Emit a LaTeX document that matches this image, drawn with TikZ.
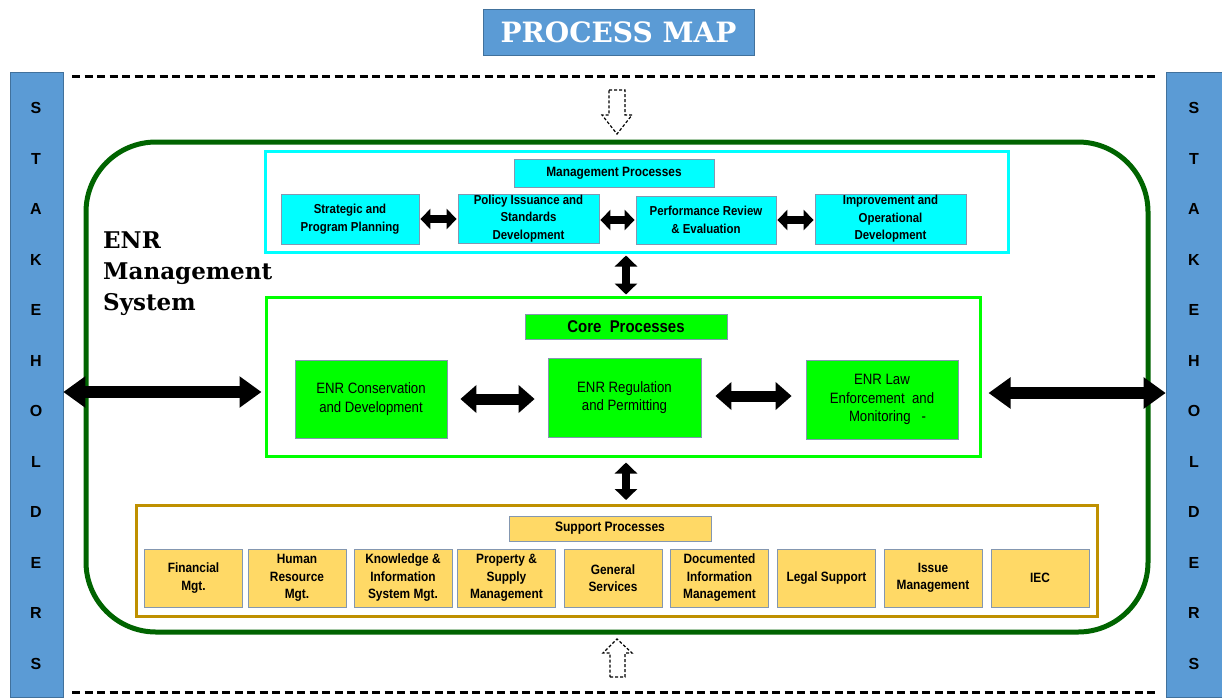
\documentclass[tikz,border=0pt]{standalone}
\usepackage{fontspec}
\usetikzlibrary{arrows.meta}
\newfontfamily\nar[FakeStretch=0.88]{Liberation Sans}
\newfontfamily\sansb{Liberation Sans}
\newfontfamily\titlefont{DejaVu Serif}
\definecolor{steel}{RGB}{91,155,213}
\definecolor{steelb}{RGB}{65,113,156}
\definecolor{cyanf}{RGB}{0,255,255}
\definecolor{limef}{RGB}{0,255,0}
\definecolor{goldf}{RGB}{255,217,102}
\definecolor{goldo}{RGB}{191,144,0}
\definecolor{darkg}{RGB}{0,100,0}
\definecolor{boxb}{RGB}{132,151,176}
\tikzset{
  pbox/.style={draw=boxb, line width=0.8pt, inner sep=1pt, align=center, text=black},
  mbox/.style={pbox, fill=cyanf, font=\nar\bfseries\fontsize{13}{17.5}\selectfont},
  cbox/.style={pbox, fill=limef, font=\nar\fontsize{15}{18.5}\selectfont},
  sbox/.style={pbox, fill=goldf, font=\nar\bfseries\fontsize{13.5}{17.5}\selectfont, minimum width=98pt, minimum height=58pt},
  frame/.style={draw, line width=3pt, inner sep=0pt},
  marr/.style={line width=8pt, {Triangle[length=10pt,width=20pt]}-{Triangle[length=10pt,width=20pt]}},
  carr/.style={line width=11pt, {Triangle[length=16pt,width=27pt]}-{Triangle[length=16pt,width=27pt]}},
  barr/.style={line width=12pt, {Triangle[length=22pt,width=30pt]}-{Triangle[length=22pt,width=30pt]}},
  varr/.style={line width=8pt, {Triangle[length=11pt,width=22pt]}-{Triangle[length=11pt,width=22pt]}},
  hollow/.style={draw, line width=1.2pt, dash pattern=on 3pt off 2pt, fill=white},
  dline/.style={line width=3pt, dash pattern=on 8pt off 4.5pt},
  stake/.style={fill=steel, draw=steelb, line width=0.6pt, inner sep=0pt},
  sletter/.style={font=\sansb\bfseries\fontsize{16}{16}\selectfont, text=black}
}
\begin{document}
\begin{tikzpicture}[x=1pt,y=-1pt]
\useasboundingbox (0,0) rectangle (1222,697);
% title
\node (title) [fill=steel, draw=steelb, line width=0.6pt, minimum width=271pt, minimum height=46pt, text=white, font=\titlefont\bfseries\fontsize{28}{28}\selectfont] at (618.5,32) {PROCESS MAP};
% stakeholders bars
\node (lstake) [stake, minimum width=53pt, minimum height=625pt] at (36.5,384.5) {};
\node (rstake) [stake, minimum width=57pt, minimum height=625pt] at (1194.5,384.5) {};
\foreach \L [count=\i from 0] in {S,T,A,K,E,H,O,L,D,E,R,S} {
  \node[sletter] (ls\i) at (36,108+50.5*\i) {\L};
  \node[sletter] (rs\i) at (1194,108+50.5*\i) {\L};
}
% dashed lines
\coordinate (dtl) at (72,76);
\coordinate (dtr) at (1157,76);
\coordinate (dbl) at (72,692);
\coordinate (dbr) at (1157,692);
\draw[dline] (dtl) -- (dtr);
\draw[dline] (dbl) -- (dbr);
% hollow arrows
\draw[hollow] (609,90) -- (625,90) -- (625,115) -- (632,115) -- (617,134) -- (602,115) -- (609,115) -- cycle;
\draw[hollow] (610,677) -- (625,677) -- (625,653) -- (632,653) -- (617,639) -- (603,653) -- (610,653) -- cycle;
% system frame
\node (ems) [draw=darkg, line width=5pt, rounded corners=70pt, minimum width=1062pt, minimum height=490pt] at (617,387) {};
\node (emsl) [anchor=north west, align=left, inner sep=0pt, font=\titlefont\bfseries\fontsize{23}{31}\selectfont] at (103,232) {ENR\\Management\\System};
% management
\node (mgmt) [frame, draw=cyanf, minimum width=743pt, minimum height=101pt] at (636.5,201.5) {};
\node (mlabel) [mbox, font=\nar\bfseries\fontsize{13.5}{15}\selectfont, minimum width=200pt, minimum height=28pt] at (614,173) {Management Processes};
\node (strat) [mbox, minimum width=138pt, minimum height=50pt] at (350,219) {Strategic and\\Program Planning};
\node (policy) [mbox, minimum width=141pt, minimum height=49pt] at (528.5,218.5) {Policy Issuance and\\Standards\\Development};
\node (perf) [mbox, minimum width=140pt, minimum height=48pt] at (706,220) {Performance Review\\\& Evaluation};
\node (impr) [mbox, minimum width=151pt, minimum height=50pt] at (890.5,219) {Improvement and\\Operational\\Development};
\draw[marr] ([xshift=1pt]strat.east) -- ([xshift=-1pt]strat.east -| policy.west);
\draw[marr] ([xshift=1pt]policy.east |- perf.west) -- ([xshift=-1pt]perf.west);
\draw[marr] ([xshift=1pt]perf.east) -- ([xshift=-1pt]perf.east -| impr.west);
% core
\node (core) [frame, draw=limef, minimum width=714pt, minimum height=159pt] at (623,376.5) {};
\node (clabel) [cbox, font=\nar\bfseries\fontsize{17}{19}\selectfont, minimum width=202pt, minimum height=25pt] at (626,326.5) {Core\ \ Processes};
\node (cons) [cbox, minimum width=152pt, minimum height=78pt] at (371,399) {ENR Conservation\\and Development};
\node (reg) [cbox, minimum width=153pt, minimum height=79pt] at (624.5,397.5) {ENR Regulation\\and Permitting};
\node (law) [cbox, minimum width=152pt, minimum height=79pt] at (882,399.5) {ENR Law\\Enforcement\ \ and\\\ \ \ Monitoring\ \ \ -};
\draw[carr] ([xshift=13pt]cons.east) -- ([xshift=-13pt]cons.east -| reg.west);
\draw[carr] ([xshift=14pt]reg.east |- 0,396) -- ([xshift=-14pt]law.west |- 0,396);
\draw[barr] (lstake.east |- 0,392) -- ([xshift=-3pt]core.west |- 0,392);
\draw[barr] ([xshift=7pt]core.east |- 0,393) -- (rstake.west |- 0,393);
% vertical arrows
\draw[varr] ([yshift=-2pt]clabel.north |- mgmt.south) -- ([yshift=1pt]clabel.north |- core.north);
\coordinate (suptop) at (626,505);
\draw[varr] ([yshift=-5pt]clabel.north |- core.south) -- ([yshift=5pt]suptop);
% support
\node (sup) [frame, draw=goldo, minimum width=961pt, minimum height=111pt] at (616.5,560.5) {};
\node (slabel) [sbox, font=\nar\bfseries\fontsize{13.7}{15}\selectfont, minimum width=202pt, minimum height=25pt] at (610,528.5) {Support Processes};
\node (fin) [sbox] at (193.5,578) {Financial\\Mgt.};
\node (hr) [sbox] at (297,578) {Human\\Resource\\Mgt.};
\node (kis) [sbox] at (403,578) {Knowledge \&\\Information\\System Mgt.};
\node (prop) [sbox] at (506.5,578) {Property \&\\Supply\\Management};
\node (gen) [sbox] at (613,578) {General\\Services};
\node (doc) [sbox] at (719.5,578) {Documented\\Information\\Management};
\node (legal) [sbox] at (826.5,578) {Legal Support};
\node (issue) [sbox] at (933,578) {Issue\\Management};
\node (iec) [sbox] at (1040,578) {IEC};
\end{tikzpicture}
\end{document}
